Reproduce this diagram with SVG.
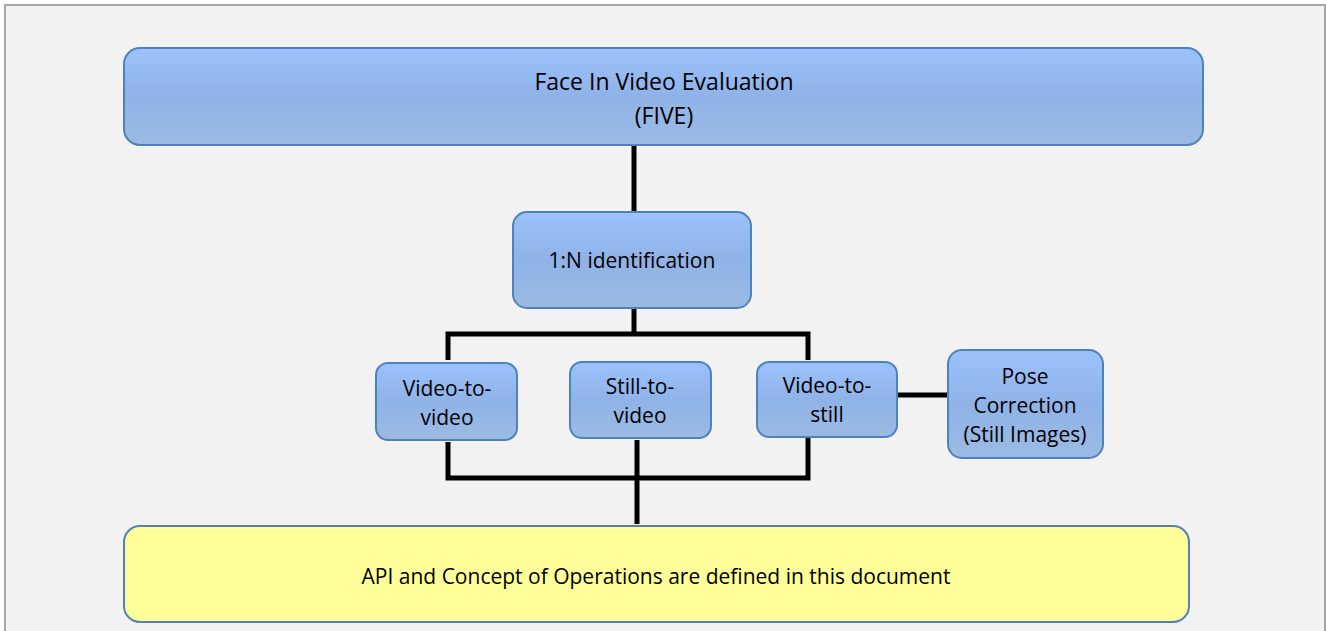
<svg xmlns="http://www.w3.org/2000/svg" width="1326" height="631" viewBox="0 0 1326 631">
<defs>
<linearGradient id="blue" x1="0" y1="0" x2="0" y2="1">
<stop offset="0" stop-color="#9cc2fc"/>
<stop offset="0.5" stop-color="#8fb3e8"/>
<stop offset="1" stop-color="#9bbbe2"/>
</linearGradient>
<style>
.b{fill:url(#blue);stroke:#4f81bd;stroke-width:2}
.y{fill:#ffff99;stroke:#4f81bd;stroke-width:2}
.t{font-family:"Open Sans","Liberation Sans",sans-serif;font-size:21px;fill:#000;text-anchor:middle}
.h{font-size:23px}
.c{stroke:#000;stroke-width:5;fill:none}
</style>
</defs>
<rect x="0" y="0" width="1326" height="631" fill="#ffffff"/>
<rect x="5" y="5" width="1320" height="630" fill="#f2f2f2" stroke="#a6a6a6" stroke-width="2"/>
<g id="connectors">
<path class="c" d="M634 145V212"/>
<path class="c" d="M634 308V334"/>
<path class="c" d="M448 360V334H808V360"/>
<path class="c" d="M448 442V478H808V438"/>
<path class="c" d="M637 440V524"/>
<path class="c" d="M897 395H948"/>
</g>
<g id="five">
<rect class="b" x="124" y="48" width="1079" height="97" rx="16"/>
<text class="t h" x="664" y="90">Face In Video Evaluation</text>
<text class="t h" x="664" y="124">(FIVE)</text>
</g>
<g id="identification">
<rect class="b" x="513" y="212" width="238" height="96" rx="14"/>
<text class="t" x="632" y="268">1:N identification</text>
</g>
<g id="v2v">
<rect class="b" x="376" y="363" width="141" height="77" rx="12"/>
<text class="t" x="447" y="396">Video-to-</text>
<text class="t" x="447" y="425">video</text>
</g>
<g id="s2v">
<rect class="b" x="570" y="362" width="141" height="76" rx="12"/>
<text class="t" x="640" y="394">Still-to-</text>
<text class="t" x="640" y="423">video</text>
</g>
<g id="v2s">
<rect class="b" x="757" y="362" width="140" height="75" rx="12"/>
<text class="t" x="827" y="393">Video-to-</text>
<text class="t" x="827" y="422">still</text>
</g>
<g id="pose">
<rect class="b" x="948" y="350" width="155" height="108" rx="14"/>
<text class="t" x="1025" y="384">Pose</text>
<text class="t" x="1025" y="413">Correction</text>
<text class="t" x="1025" y="442">(Still Images)</text>
</g>
<g id="api">
<rect class="y" x="124" y="526" width="1065" height="96" rx="16"/>
<text class="t" x="656" y="584">API and Concept of Operations are defined in this document</text>
</g>
</svg>
